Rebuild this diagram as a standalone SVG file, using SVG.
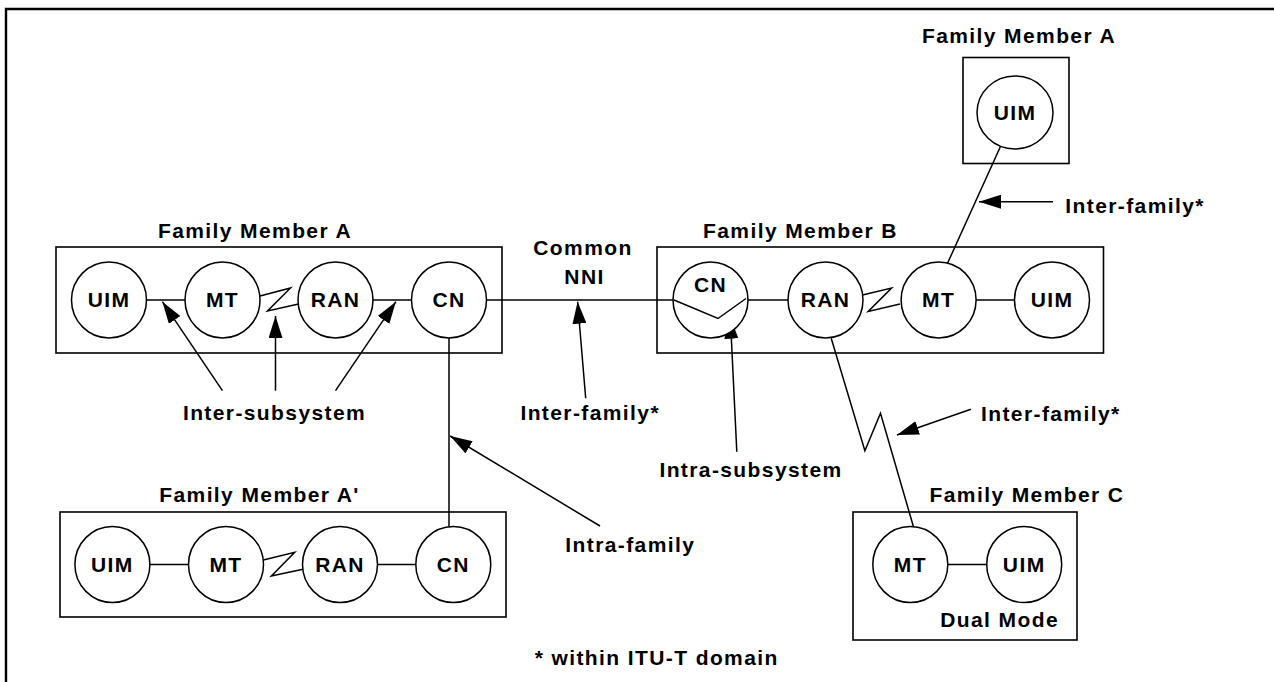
<svg xmlns="http://www.w3.org/2000/svg" width="1274" height="682" viewBox="0 0 1274 682">
<style>
text{font-family:"Liberation Sans",Arial,Helvetica,sans-serif;font-weight:bold;font-size:21px;letter-spacing:1.4px;fill:#000}
.c{text-anchor:middle}
.box{fill:none;stroke:#000;stroke-width:1.6}
.nd{fill:#fff;stroke:#000;stroke-width:1.5}
.ln{fill:none;stroke:#000;stroke-width:1.5;stroke-linejoin:miter}
.ar{fill:none;stroke:#000;stroke-width:1.5;marker-end:url(#ah)}
</style>
<defs>
<marker id="ah" markerUnits="userSpaceOnUse" markerWidth="22" markerHeight="14" refX="22" refY="7" orient="auto">
<path d="M0,0 L22,7 L0,14 z" fill="#000"/>
</marker>
</defs>
<rect width="1274" height="682" fill="#fff"/>
<path d="M6,690 V9 H1280" fill="none" stroke="#000" stroke-width="2.4"/>

<g id="boxes">
<g id="fmA"><rect class="box" x="56" y="247" width="446" height="106"/><text class="c" x="255" y="238">Family Member A</text></g>
<g id="fmB"><rect class="box" x="657" y="247" width="446.5" height="106"/><text class="c" x="800.5" y="238">Family Member B</text></g>
<g id="fmA2"><rect class="box" x="60" y="512" width="446" height="105"/><text class="c" x="259.5" y="502">Family Member A'</text></g>
<g id="fmC"><rect class="box" x="853" y="512" width="224" height="128"/><text class="c" x="1027" y="502">Family Member C</text><text class="c" x="999.6" y="627">Dual Mode</text></g>
<g id="fmAtop"><rect class="box" x="963" y="57.5" width="106" height="106"/><text class="c" x="1019" y="43">Family Member A</text></g>
</g>

<g id="connectors">
<line class="ln" x1="146.5" y1="300" x2="185" y2="300"/>
<polyline class="ln" points="260,296 290.5,288 267.5,311 298.5,304"/>
<line class="ln" x1="373" y1="300" x2="411.5" y2="300"/>
<line class="ln" x1="486.5" y1="300" x2="673" y2="300"/>
<line class="ln" x1="748" y1="300" x2="788" y2="300"/>
<polyline class="ln" points="862.5,295 891.6,288 868.2,311.5 900,304"/>
<line class="ln" x1="976" y1="300" x2="1014.5" y2="300"/>
<line class="ln" x1="449" y1="338" x2="449" y2="526.5"/>
<line class="ln" x1="150" y1="564.5" x2="188.5" y2="564.5"/>
<polyline class="ln" points="263.3,560 294.7,552.3 271.4,576 302.9,569.3"/>
<line class="ln" x1="377.5" y1="564.5" x2="415.8" y2="564.5"/>
<line class="ln" x1="1000.7" y1="146" x2="947.5" y2="263.3"/>
<polyline class="ln" points="831.2,338.3 864.9,450.7 880.5,413.3 913.4,526.5"/>
<line class="ln" x1="948" y1="564.5" x2="986.5" y2="564.5"/>

<line class="ar" x1="222.4" y1="390.7" x2="162.4" y2="301.7"/>
<line class="ar" x1="275.5" y1="390.7" x2="275.5" y2="316"/>
<line class="ar" x1="335.5" y1="390.7" x2="395.9" y2="301.7"/>
<line class="ar" x1="585.7" y1="398.3" x2="577.6" y2="301.7"/>
<line class="ar" x1="600" y1="526" x2="450.2" y2="436"/>
<line class="ar" x1="736.8" y1="451.7" x2="730.3" y2="316.7"/>
<line class="ar" x1="1053" y1="201.7" x2="979" y2="201.7"/>
<line class="ar" x1="970.9" y1="409.3" x2="896.9" y2="435"/>
</g>

<g id="nodes">
<g id="a-uim"><ellipse class="nd" cx="109" cy="300" rx="37.5" ry="38"/><text class="c" x="109" y="307">UIM</text></g>
<g id="a-mt"><ellipse class="nd" cx="222.5" cy="300" rx="37.5" ry="38"/><text class="c" x="222.5" y="307">MT</text></g>
<g id="a-ran"><ellipse class="nd" cx="335.5" cy="300" rx="37.5" ry="38"/><text class="c" x="335.5" y="307">RAN</text></g>
<g id="a-cn"><ellipse class="nd" cx="449" cy="300" rx="37.5" ry="38"/><text class="c" x="449" y="307">CN</text></g>

<g id="b-cn"><ellipse class="nd" cx="710.5" cy="300" rx="37.5" ry="38"/><text class="c" x="710.5" y="292">CN</text><polyline class="ln" points="674,300 718,318.5 746,298.5"/></g>
<g id="b-ran"><ellipse class="nd" cx="825.5" cy="300" rx="37.5" ry="38"/><text class="c" x="825.5" y="307">RAN</text></g>
<g id="b-mt"><ellipse class="nd" cx="938.6" cy="300" rx="37.5" ry="38"/><text class="c" x="938.6" y="307">MT</text></g>
<g id="b-uim"><ellipse class="nd" cx="1052" cy="300" rx="37.5" ry="38"/><text class="c" x="1052" y="307">UIM</text></g>

<g id="a2-uim"><ellipse class="nd" cx="112.4" cy="564.5" rx="37.5" ry="38"/><text class="c" x="112.4" y="572">UIM</text></g>
<g id="a2-mt"><ellipse class="nd" cx="226" cy="564.5" rx="37.5" ry="38"/><text class="c" x="226" y="572">MT</text></g>
<g id="a2-ran"><ellipse class="nd" cx="340" cy="564.5" rx="37.5" ry="38"/><text class="c" x="340" y="572">RAN</text></g>
<g id="a2-cn"><ellipse class="nd" cx="453.3" cy="564.5" rx="37.5" ry="38"/><text class="c" x="453.3" y="572">CN</text></g>

<g id="c-mt"><ellipse class="nd" cx="910.3" cy="564.5" rx="37.5" ry="38"/><text class="c" x="910.3" y="572">MT</text></g>
<g id="c-uim"><ellipse class="nd" cx="1024.2" cy="564.5" rx="37.5" ry="38"/><text class="c" x="1024.2" y="572">UIM</text></g>

<g id="top-uim"><ellipse class="nd" cx="1015" cy="112.5" rx="38" ry="36.5"/><text class="c" x="1015" y="120">UIM</text></g>
</g>

<g id="labels">
<text class="c" x="583" y="255">Common</text>
<text class="c" x="584.5" y="284">NNI</text>
<text class="c" x="274.5" y="420">Inter-subsystem</text>
<text x="520.4" y="420">Inter-family*</text>
<text x="565.3" y="552">Intra-family</text>
<text x="534.7" y="665">* within ITU-T domain</text>
<text x="1065.3" y="213.3">Inter-family*</text>
<text class="c" x="751" y="477">Intra-subsystem</text>
<text x="981" y="421">Inter-family*</text>
</g>
</svg>
